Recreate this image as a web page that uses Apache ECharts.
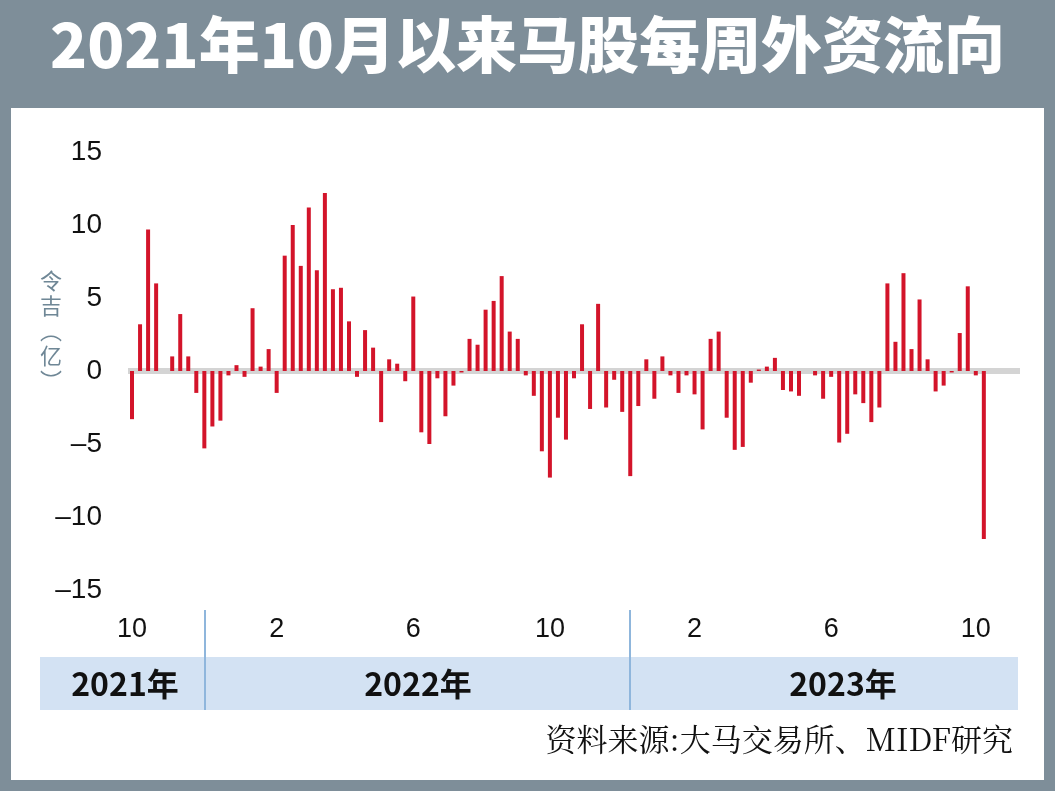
<!DOCTYPE html>
<html><head><meta charset="utf-8">
<script src="https://cdn.jsdelivr.net/npm/echarts@6/dist/echarts.min.js"></script>
<style>html,body{margin:0;padding:0;background:#fff}#c{width:1055px;height:791px}</style>
</head><body><div id="c"></div>
<script>
// weekly net foreign flow, RM 100m, Oct 2021 .. Oct 2023
const flows = [
  -3.3, 3.2, 9.7, 6.0, 0, 1.0, 3.9, 1.0, -1.5, -5.3, -3.8, -3.4, -0.3, 0.4, -0.4, 4.3, 0.3, 1.5, -1.5, 7.9,
  10.0, 7.2, 11.2, 6.9, 12.2, 5.6, 5.7, 3.4,
  -0.4, 2.8, 1.6, -3.5, 0.8, 0.5, -0.7, 5.1, -4.2, -5.0, -0.5, -3.1, -1.0, -0.1, 2.2, 1.8, 4.2, 4.8, 6.5,
  2.7, 2.2, -0.3, -1.7, -5.5, -7.3, -3.2, -4.7,
  -0.5, 3.2, -2.6, 4.6, -2.5, -0.6, -2.8, -7.2, -2.4, 0.8, -1.9, 1.0, -0.3, -1.5, -0.3, -1.6, -4.0, 2.2,
  2.7, -3.2, -5.4, -5.2, -0.8, 0.1, 0.3, 0.9, -1.3,
  -1.4, -1.7, 0, -0.3, -1.9, -0.4, -4.9, -4.3, -1.6, -2.2, -3.5, -2.5, 6.0, 2.0, 6.7, 1.5, 4.9, 0.8, -1.4,
  -1.0, -0.1, 2.6, 5.8, -0.3, -11.5
];
const padWeeks = 4;
const monthTicks = { 0: "10", 18: "2", 35: "6", 52: "10", 70: "2", 87: "6", 105: "10" };
const yearLabels = ["2021年", "2022年", "2023年"];
const yearCenters = [125, 418, 843];

const weeks = flows.concat(Array(padWeeks).fill(null)).map((_, i) => "w" + i);
const GRAY = "#7e8e99", RED = "#d3142a";

const chart = echarts.init(document.getElementById("c"));
chart.setOption({
  animation: false,
  grid: { left: 128, right: 35, top: 152, bottom: 201 },
  xAxis: {
    type: "category", data: weeks, boundaryGap: true,
    axisLine: { show: false }, axisTick: { show: false },
    axisLabel: {
      interval: 0, margin: 26, fontSize: 27, color: "#111", fontFamily: "Liberation Sans",
      formatter: (v, i) => monthTicks[i] || ""
    }
  },
  yAxis: {
    type: "value", min: -15, max: 15, interval: 5,
    splitLine: { show: false }, axisLine: { show: false }, axisTick: { show: false },
    axisLabel: {
      margin: 26, fontSize: 28, color: "#111", fontFamily: "Liberation Sans",
      formatter: (v) => (v < 0 ? "\u2013" + (-v) : String(v))
    }
  },
  series: [{
    type: "bar", data: flows, barWidth: 4, itemStyle: { color: RED }, z: 3,
    markLine: {
      silent: true, symbol: "none", label: { show: false }, z: 2,
      lineStyle: { color: "#d4d4d4", width: 6, type: "solid" },
      data: [{ yAxis: 0 }]
    }
  }],
  graphic: [
    { type: "rect", shape: { x: 0, y: 0, width: 1055, height: 791 }, style: { fill: "none", stroke: GRAY, lineWidth: 22 }, silent: true },
    { type: "rect", shape: { x: 0, y: 0, width: 1055, height: 108 }, style: { fill: GRAY } },
    { type: "text", left: "center", top: 14, style: { text: "2021年10月以来马股每周外资流向", fill: "#fff", font: "900 61px 'Noto Sans CJK SC'" } },
    { type: "text", x: 40, y: 268, style: { text: "令\n吉\n︵\n亿\n︶", fill: "#6f8796", font: "22px 'Noto Sans CJK SC'", lineHeight: 25 } },
    { type: "rect", shape: { x: 40, y: 657, width: 978, height: 53 }, style: { fill: "#d3e2f3" } },
    { type: "line", shape: { x1: 205, y1: 610, x2: 205, y2: 710 }, style: { stroke: "#8fb6dc", lineWidth: 2 } },
    { type: "line", shape: { x1: 630, y1: 610, x2: 630, y2: 710 }, style: { stroke: "#8fb6dc", lineWidth: 2 } },
    ...yearLabels.map((t, i) => ({
      type: "text", x: yearCenters[i], y: 684,
      style: { text: t, fill: "#111", font: "bold 32px 'Noto Sans CJK SC'", align: "center", verticalAlign: "middle" }
    })),
    { type: "text", right: 42, top: 724, style: { text: "资料来源:大马交易所、MIDF研究", fill: "#111", font: "31px 'Noto Serif CJK SC', 'Liberation Serif', serif" } }
  ]
});
</script></body></html>
